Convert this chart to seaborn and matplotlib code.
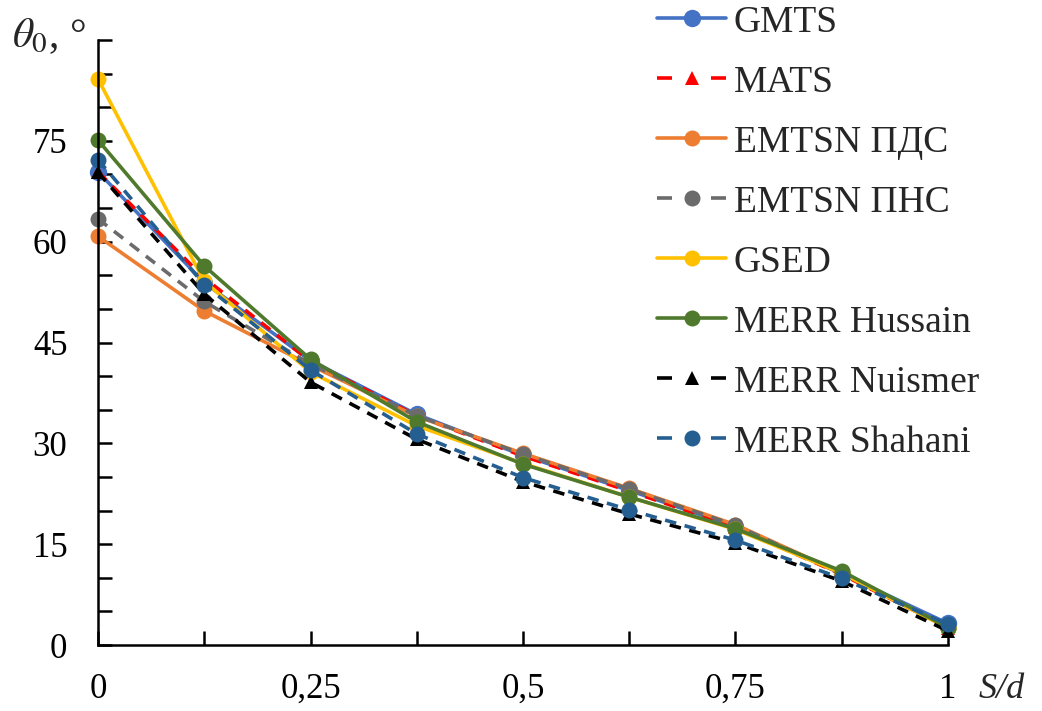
import numpy as np
import pandas as pd
import matplotlib
matplotlib.use("Agg")
import matplotlib.pyplot as plt
import seaborn as sns

# ---- data ----
x_vals = [0, 0.125, 0.25, 0.375, 0.5, 0.625, 0.75, 0.875, 1.0]
gmts      = [70.4, 53.9, 42.3, 34.3, 28.2, 23.0, 17.6, 10.6, 3.2]
mats      = [70.4, 54.6, 42.2, 34.1, 28.1, 22.9, 17.5, 10.5, 2.6]
emtsn_pds = [60.8, 49.7, 41.6, 34.0, 28.5, 23.3, 17.9, 10.7, 2.6]
emtsn_pns = [63.4, 51.1, 41.8, 34.1, 28.4, 23.2, 17.8, 10.6, 2.6]
gsed      = [84.2, 54.1, 40.6, 32.6, 27.0, 22.0, 17.2, 10.7, 2.5]
hussain   = [75.1, 56.4, 42.5, 33.2, 26.9, 22.0, 17.3, 11.0, 2.6]
nuismer   = [70.3, 52.2, 39.1, 30.6, 24.3, 19.5, 15.2, 9.5, 2.1]
shahani   = [72.2, 53.6, 40.9, 31.4, 24.9, 20.1, 15.6, 9.9, 3.1]

series_names = ["GMTS", "MATS", "EMTSN ПДС", "EMTSN ПНС", "GSED",
                "MERR Hussain", "MERR Nuismer", "MERR Shahani"]
series_vals = [gmts, mats, emtsn_pds, emtsn_pns, gsed, hussain, nuismer, shahani]

x_tick_labels = ["0", "0,25", "0,5", "0,75", "1"]
y_tick_labels = ["0", "15", "30", "45", "60", "75"]

# ---- styles ----
colors = ["#4472C4", "#FF0000", "#ED7D31", "#6B6B6B", "#FFC000",
          "#4F7A2D", "#000000", "#255E91"]
markers = ["o", "^", "o", "o", "o", "o", "^", "o"]
msizes = [12.5, 10.5, 11.5, 11.5, 11.5, 11.5, 10.5, 11.5]
dashed = [False, True, False, True, False, False, True, True]

sns.set_theme(style="white")
plt.rcParams["font.family"] = ["Liberation Serif", "DejaVu Serif"]
plt.rcParams["mathtext.fontset"] = "stix"

fig = plt.figure(figsize=(10.42, 7.11), dpi=100)
ax = fig.add_axes([98/1042, 1-645/711, (948-98)/1042, (645-40)/711])

LW = 2.6
dash_pat = (0, (3.2, 2.4))
for name, vals, c, m, ms, d in zip(series_names, series_vals, colors, markers, msizes, dashed):
    df = pd.DataFrame({"x": x_vals, "y": vals})
    sns.lineplot(data=df, x="x", y="y", ax=ax, color=c, marker=m, markersize=ms,
                 markeredgecolor=c, markeredgewidth=0, linewidth=LW,
                 linestyle=dash_pat if d else "-", label=name, clip_on=False)

ax.set_xlim(0, 1)
ax.set_ylim(0, 90)
ax.set_xticks([0, 0.25, 0.5, 0.75, 1.0])
ax.set_xticklabels(x_tick_labels)
ax.set_xticks([0.125, 0.375, 0.625, 0.875], minor=True)
ax.set_yticks([0, 15, 30, 45, 60, 75])
ax.set_yticklabels(y_tick_labels)
ax.set_yticks([v for v in range(5, 90, 5) if v % 15 != 0] + [90], minor=True)
ax.tick_params(axis="both", which="both", direction="in", length=10, width=1.8,
               color="black", labelsize=25, labelcolor="black",
               bottom=True, left=True, top=False, right=False)
ax.tick_params(axis="x", which="both", pad=20)
ax.tick_params(axis="y", which="both", pad=22)
ax.set_xlabel("")
ax.set_ylabel("")
for side in ["top", "right"]:
    ax.spines[side].set_visible(False)
for side in ["left", "bottom"]:
    ax.spines[side].set_color("black")
    ax.spines[side].set_linewidth(1.8)

fig.text(12/1042, 1-36/711, r"$\theta_0$, °", fontsize=30, ha="left", va="center")
fig.text(979/1042, 1-690/711, "S/d", fontsize=26, style="italic", ha="left", va="center")

leg = ax.legend(loc="upper left", bbox_to_anchor=(657/1042, 1-5/711),
                bbox_transform=fig.transFigure, frameon=False, fontsize=27,
                handlelength=1.85, handletextpad=0.2, labelspacing=0.68,
                borderaxespad=0, borderpad=0)
# legend handles for dashed series: one dash on each side of the marker
px2pt = 72 / 100
for line, d in zip(leg.get_lines(), dashed):
    if d:
        line.set_linestyle((0, (15 * px2pt / LW, 39 * px2pt / LW)))

fig.savefig("out.png", dpi=100)
